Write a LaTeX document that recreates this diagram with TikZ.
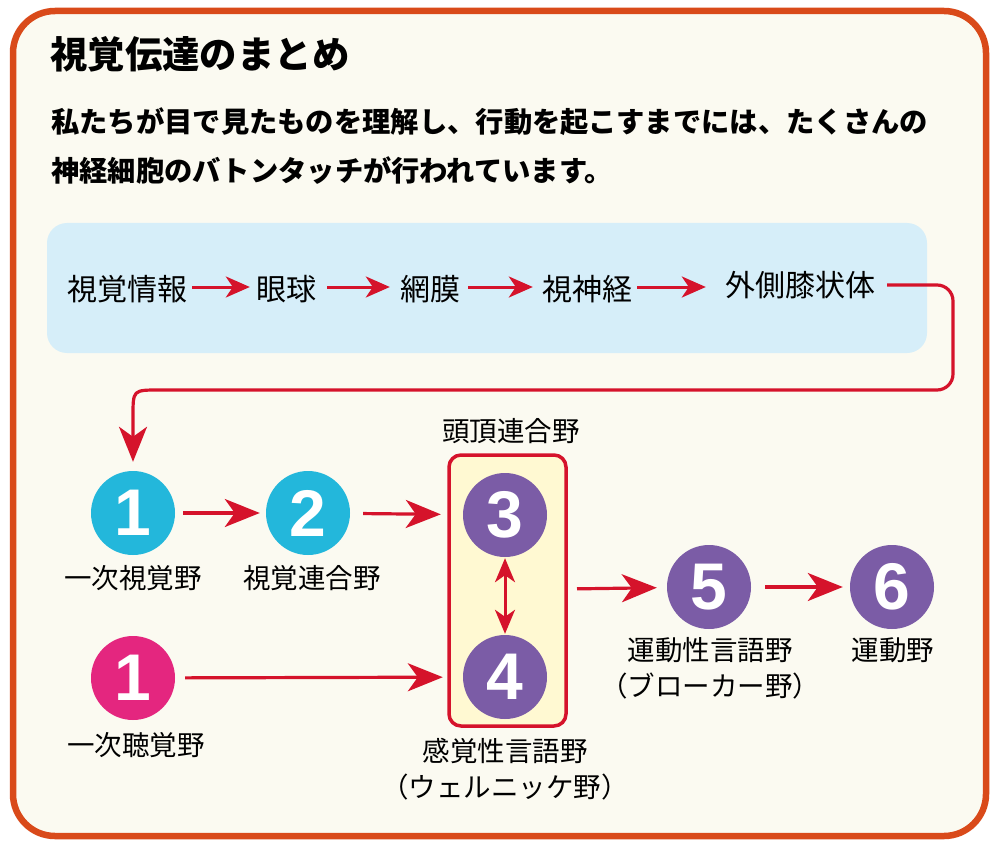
\documentclass[tikz,border=0pt]{standalone}
\usepackage{fontspec}
\setmainfont{Noto Sans CJK JP}
\newfontfamily\numfont{Liberation Sans}
\usetikzlibrary{arrows.meta}
\definecolor{frameor}{HTML}{D94A1A}
\definecolor{ivory}{HTML}{FBFAF1}
\definecolor{bluebox}{HTML}{D6EEF9}
\definecolor{arrred}{HTML}{D5132B}
\definecolor{cyanc}{HTML}{23B7DB}
\definecolor{pinkc}{HTML}{E4267F}
\definecolor{purplec}{HTML}{7B5CA6}
\definecolor{yellowbox}{HTML}{FFF9D2}
\tikzset{
  arr/.style={draw=arrred, line width=3pt, -{Stealth[length=24pt,width=21pt,inset=7pt]}},
  bigarr/.style={draw=arrred, line width=3.2pt, -{Stealth[length=35pt,width=28pt,inset=10pt]}},
  dbl/.style={draw=arrred, line width=3pt, {Stealth[length=24pt,width=20pt,inset=7pt]}-{Stealth[length=24pt,width=20pt,inset=7pt]}},
  flow/.style={inner sep=0pt, text=black, font=\fontsize{30}{36}\selectfont},
  num/.style={circle, minimum size=84pt, inner sep=0pt, text=white, font=\numfont\bfseries\fontsize{66}{66}\selectfont},
  lbl/.style={inner sep=0pt, align=center, text=black, font=\fontsize{27.5}{36}\selectfont},
}
\begin{document}
\begin{tikzpicture}[x=1pt,y=-1pt]
\useasboundingbox (0,0) rectangle (1000,850);
\fill[white] (0,0) rectangle (1000,850);
\draw[frameor, line width=6.5pt, fill=ivory, rounded corners=42] (13,11) rectangle (986,836);

\node[anchor=west, inner sep=0pt, font=\bfseries\fontsize{37.4}{40}\selectfont] (title) at (50,54) {視覚伝達のまとめ};
\node[anchor=west, inner sep=0pt, align=left, font=\bfseries\fontsize{28.3}{49}\selectfont] (para) at (51,146.5)
  {私たちが目で見たものを理解し、行動を起こすまでには、たくさんの\\神経細胞のバトンタッチが行われています。};

\fill[bluebox, rounded corners=20] (47,223) rectangle (927,353);

\node[flow] (vis) at (127,289) {視覚情報};
\node[flow] (eye) at (286,289) {眼球};
\node[flow] (ret) at (430,289) {網膜};
\node[flow] (opt) at (587,289) {視神経};
\node[flow] (lgn) at (800,285) {外側膝状体};

\draw[arr, shorten <=5pt, shorten >=6pt] (vis.east |- 0,287) -- (eye.west |- 0,287);
\draw[arr, shorten <=11pt, shorten >=10pt] (eye.east |- 0,287) -- (ret.west |- 0,287);
\draw[arr, shorten <=8pt, shorten >=9pt] (ret.east |- 0,287) -- (opt.west |- 0,287);
\draw[arr, shorten <=5pt, shorten >=19pt] (opt.east |- 0,287) -- (lgn.west |- 0,287);

% yellow box
\draw[arrred, line width=3.5pt, fill=yellowbox, rounded corners=12] (449,455) rectangle (566,726);
\coordinate (boxE) at (566,589);

\node[num, fill=cyanc] (c1v) at (133,513) {1};
\node[num, fill=cyanc] (c2) at (308,513) {2};
\node[num, fill=purplec] (c3) at (505,515) {3};
\node[num, fill=purplec] (c4) at (505,677) {4};
\node[num, fill=pinkc] (c1a) at (133,678) {1};
\node[num, fill=purplec] (c5) at (709,587) {5};
\node[num, fill=purplec] (c6) at (892,587) {6};

\node[lbl] (l1v) at (133,578) {一次視覚野};
\node[lbl] (l2) at (312,578) {視覚連合野};
\node[lbl] (l3) at (511,431) {頭頂連合野};
\node[lbl] (l1a) at (136,745) {一次聴覚野};
\node[lbl] (l4) at (505,769) {感覚性言語野\\（ウェルニッケ野）};
\node[lbl] (l5) at (710,668) {運動性言語野\\（ブローカー野）};
\node[lbl] (l6) at (893,650) {運動野};

\coordinate (rc) at (953,390);
\draw[bigarr, rounded corners=16, shorten >=9pt] ([xshift=12pt]lgn.east) -- (lgn.east -| rc) -- (rc) -- (175,390) .. controls (133,390) .. (133,432) -- (c1v);

\draw[bigarr, shorten <=8pt, shorten >=6pt] (c1v) -- (c2);
\draw[bigarr, shorten <=13pt, shorten >=22pt] (c2) -- (c3);
\draw[bigarr, shorten <=10pt, shorten >=20pt] (c1a) -- (c4);
\draw[dbl, shorten <=1pt, shorten >=1pt] (c3) -- (c4);
\draw[bigarr, shorten <=11pt, shorten >=10pt] (boxE) -- (c5);
\draw[bigarr, shorten <=14pt, shorten >=7pt] (c5) -- (c6);
\end{tikzpicture}
\end{document}
